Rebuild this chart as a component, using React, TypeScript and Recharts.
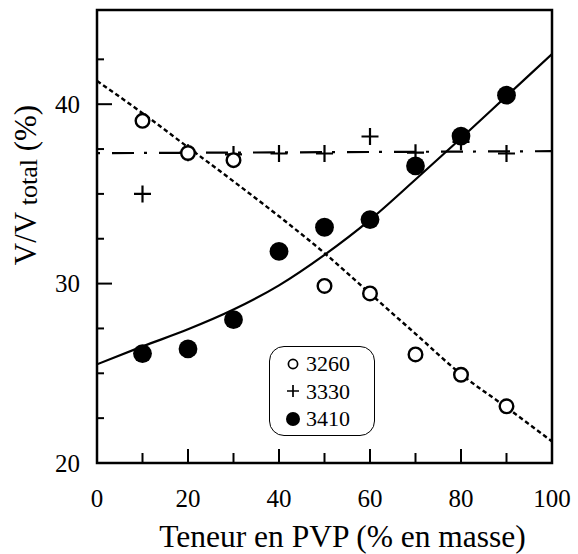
import React from "react";
import { ComposedChart, Legend, Line, ReferenceArea, Scatter, XAxis, YAxis } from "recharts";

const FONT = "'Liberation Serif', Tinos, 'Times New Roman', 'DejaVu Serif', serif";

// wavenumber bands (cm-1) shown in the legend
const SERIES_NAMES = ["3260", "3330", "3410"];

const PVP_3260 = [10, 20, 30, 50, 60, 70, 80, 90];
const V_3260 = [39.07, 37.28, 36.88, 29.87, 29.45, 26.05, 24.92, 23.16];

const PVP_3330 = [10, 20, 30, 40, 50, 60, 70, 80, 90];
const V_3330 = [35.0, 37.3, 37.2, 37.25, 37.25, 38.2, 37.3, 37.9, 37.25];

const PVP_3410 = [10, 20, 30, 40, 50, 60, 70, 80, 90];
const V_3410 = [26.1, 26.36, 27.99, 31.8, 33.14, 33.57, 36.56, 38.22, 40.5];

// fitted curves
const FIT_X = [0, 10, 20, 30, 40, 50, 60, 70, 80, 90, 100];
const FIT_3260 = [41.3, 39.5, 37.6, 35.7, 33.75, 31.7, 29.45, 27.2, 24.95, 23.1, 21.2];
const FIT_3410 = [25.5, 26.5, 27.45, 28.55, 29.9, 31.6, 33.55, 35.8, 38.1, 40.45, 42.8];
const FIT_3330_X = [0, 100];
const FIT_3330 = [37.27, 37.38];

const X_TICKS = [0, 10, 20, 30, 40, 50, 60, 70, 80, 90, 100];
const X_LABELS = [0, 20, 40, 60, 80, 100];
const Y_TICKS = [20, 22.5, 25, 27.5, 30, 32.5, 35, 37.5, 40, 42.5];
const Y_LABELS = [20, 30, 40];

const pts = (xs: number[], ys: number[]) => xs.map((x, i) => ({ x, y: ys[i] }));

const textStyle = { fontFamily: FONT, fill: "#000" };

const OpenDot = ({ cx, cy }: any) => (
  <circle cx={cx} cy={cy} r={6.8} fill="#fff" stroke="#000" strokeWidth={2.4} />
);
const PlusMark = ({ cx, cy }: any) => (
  <path d={`M${cx - 8.5},${cy}H${cx + 8.5}M${cx},${cy - 8.5}V${cy + 8.5}`} stroke="#000" strokeWidth={2.2} fill="none" />
);
const FilledDot = ({ cx, cy }: any) => <circle cx={cx} cy={cy} r={9.4} fill="#000" />;

function XTick({ x, y, payload }: any) {
  const v = payload.value;
  const labelled = X_LABELS.includes(v);
  return (
    <g>
      {v > 0 && v < 100 && (
        <line x1={x} y1={y} x2={x} y2={y - (labelled ? 14 : 10)} stroke="#000" strokeWidth={2} />
      )}
      {labelled && (
        <text x={x} y={y + 44} textAnchor="middle" fontSize={25} style={textStyle}>
          {v}
        </text>
      )}
    </g>
  );
}

function YTick({ x, y, payload }: any) {
  const v = payload.value;
  const labelled = Y_LABELS.includes(v);
  return (
    <g>
      {v > 20 && (
        <line x1={x} y1={y} x2={x + (labelled ? 15 : 7)} y2={y} stroke="#000" strokeWidth={2} />
      )}
      {labelled && (
        <text x={x - 17} y={y + 8.5} textAnchor="end" fontSize={25} style={textStyle}>
          {v}
        </text>
      )}
    </g>
  );
}

function XTitle({ viewBox }: any) {
  const { x = 97, y = 463, width = 455 } = viewBox || {};
  return (
    <text x={x + width / 2 + 18} y={y + 84} textAnchor="middle" fontSize={31.5} style={textStyle}>
      Teneur en PVP (% en masse)
    </text>
  );
}

function YTitle({ viewBox }: any) {
  const { x = 0, y = 10 } = viewBox || {};
  const tx = x + 36;
  const ty = y + 175;
  return (
    <text
      x={tx}
      y={ty}
      transform={`rotate(-90, ${tx}, ${ty})`}
      textAnchor="middle"
      fontSize={31}
      style={textStyle}
    >
      <tspan>V/V</tspan>
      <tspan fontSize={26} dy={1}> total</tspan>
      <tspan dy={-1}> (%)</tspan>
    </text>
  );
}

function LegendMarker({ i }: { i: number }) {
  return (
    <svg width={16} height={16} style={{ display: "block" }}>
      {i === 0 && <circle cx={8} cy={8} r={4.6} fill="#fff" stroke="#000" strokeWidth={1.7} />}
      {i === 1 && <path d="M2,8H14M8,2V14" stroke="#000" strokeWidth={1.7} />}
      {i === 2 && <circle cx={8} cy={8} r={7} fill="#000" />}
    </svg>
  );
}

function LegendBox() {
  return (
    <div
      style={{
        boxSizing: "border-box",
        width: 106,
        height: 90,
        border: "1.7px solid #000",
        borderRadius: 15,
        background: "#fff",
        padding: "3px 0 0 15px",
        fontFamily: FONT,
        fontSize: 22,
        lineHeight: "27.5px",
        color: "#000",
      }}
    >
      {SERIES_NAMES.map((name, i) => (
        <div key={name} style={{ display: "flex", alignItems: "center", height: 27.5 }}>
          <LegendMarker i={i} />
          <span style={{ marginLeft: 5 }}>{name}</span>
        </div>
      ))}
    </div>
  );
}

export default function App() {
  return (
    <div style={{ position: "absolute", left: 0, top: 0, width: 578, height: 554, background: "#fff" }}>
      <ComposedChart width={578} height={554} margin={{ top: 10, right: 26, left: 0, bottom: 0 }}>
        <XAxis
          type="number"
          dataKey="x"
          domain={[0, 100]}
          ticks={X_TICKS}
          interval={0}
          allowDataOverflow
          axisLine={false}
          tickLine={false}
          tickSize={0}
          tickMargin={0}
          height={91}
          tick={<XTick />}
          label={{ content: (p: any) => <XTitle viewBox={p.viewBox} /> }}
        />
        <YAxis
          type="number"
          dataKey="y"
          domain={[20, 45.25]}
          ticks={Y_TICKS}
          interval={0}
          allowDataOverflow
          axisLine={false}
          tickLine={false}
          tickSize={0}
          tickMargin={0}
          width={97}
          tick={<YTick />}
          label={{ content: (p: any) => <YTitle viewBox={p.viewBox} /> }}
        />
        <ReferenceArea x1={0} x2={100} y1={20} y2={45.25} fill="none" stroke="#000" strokeWidth={2.5} />
        <Line
          data={pts(FIT_X, FIT_3260)}
          dataKey="y"
          type="monotone"
          stroke="#000"
          strokeWidth={2.4}
          strokeDasharray="4.5 3"
          dot={false}
          activeDot={false}
          isAnimationActive={false}
        />
        <Line
          data={pts(FIT_3330_X, FIT_3330)}
          dataKey="y"
          type="linear"
          stroke="#000"
          strokeWidth={2.2}
          strokeDasharray="3 12 22 10"
          dot={false}
          activeDot={false}
          isAnimationActive={false}
        />
        <Line
          data={pts(FIT_X, FIT_3410)}
          dataKey="y"
          type="monotone"
          stroke="#000"
          strokeWidth={2.2}
          dot={false}
          activeDot={false}
          isAnimationActive={false}
        />
        <Scatter name={SERIES_NAMES[1]} data={pts(PVP_3330, V_3330)} shape={PlusMark} isAnimationActive={false} />
        <Scatter name={SERIES_NAMES[0]} data={pts(PVP_3260, V_3260)} shape={OpenDot} isAnimationActive={false} />
        <Scatter name={SERIES_NAMES[2]} data={pts(PVP_3410, V_3410)} shape={FilledDot} isAnimationActive={false} />
        <Legend
          layout="vertical"
          align="center"
          verticalAlign="middle"
          content={() => <LegendBox />}
          wrapperStyle={{ left: 269, top: 346, width: 106, height: 90 }}
        />
      </ComposedChart>
    </div>
  );
}
